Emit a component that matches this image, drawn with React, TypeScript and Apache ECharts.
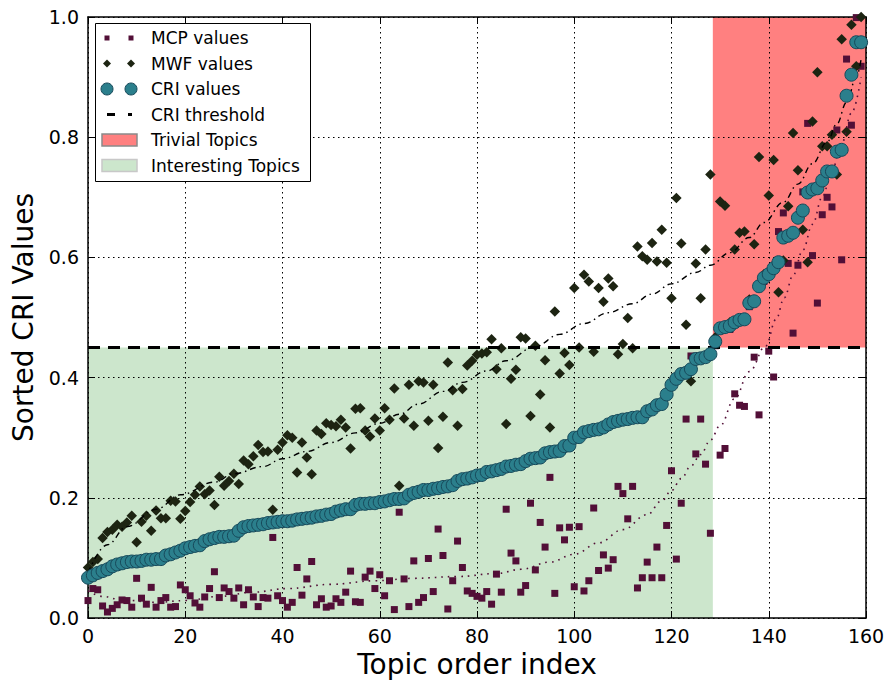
import React, { useEffect, useRef } from "react";
import * as echarts from "echarts";

// ---------- data ----------
const MCP_VALUES = [
  0.029, 0.049, 0.047, 0.020, 0.010, 0.016, 0.022, 0.030, 0.029, 0.018,
  0.066, 0.033, 0.023, 0.051, 0.018, 0.029, 0.034, 0.018, 0.019, 0.055,
  0.047, 0.037, 0.025, 0.018, 0.035, 0.049, 0.077, 0.034, 0.050, 0.044,
  0.033, 0.050, 0.022, 0.047, 0.035, 0.019, 0.034, 0.033, 0.134, 0.037,
  0.029, 0.018, 0.026, 0.084, 0.038, 0.065, 0.094, 0.022, 0.032, 0.018,
  0.020, 0.032, 0.026, 0.043, 0.078, 0.027, 0.026, 0.068, 0.078, 0.049,
  0.072, 0.037, 0.062, 0.014, 0.176, 0.065, 0.019, 0.095, 0.026, 0.034,
  0.099, 0.044, 0.148, 0.104, 0.015, 0.062, 0.128, 0.084, 0.045, 0.041,
  0.036, 0.033, 0.044, 0.023, 0.073, 0.043, 0.181, 0.108, 0.095, 0.043,
  0.054, 0.191, 0.080, 0.159, 0.118, 0.234, 0.041, 0.150, 0.130, 0.151,
  0.052, 0.152, 0.045, 0.062, 0.183, 0.079, 0.105, 0.083, 0.097, 0.219,
  0.207, 0.165, 0.219, 0.050, 0.067, 0.093, 0.067, 0.118, 0.067, 0.154,
  0.245, 0.098, 0.191, 0.331, 0.436, 0.273, 0.331, 0.256, 0.141, 0.453,
  0.271, 0.282, 0.480, 0.373, 0.354, 0.352, 0.518, 0.434, 0.338, 0.560,
  0.444, 0.401, 0.643, 0.674, 0.590, 0.474, 0.587, 0.709, 0.823, 0.603,
  0.524, 0.671, 0.700, 0.684, 0.812, 0.596, 0.930, 0.820, 0.999, 0.918,
];

const MWF_VALUES = [
  0.084, 0.093, 0.098, 0.133, 0.143, 0.147, 0.155, 0.152, 0.159, 0.170,
  0.126, 0.160, 0.170, 0.145, 0.179, 0.166, 0.166, 0.195, 0.194, 0.165,
  0.178, 0.193, 0.205, 0.219, 0.206, 0.212, 0.188, 0.235, 0.220, 0.228,
  0.240, 0.223, 0.262, 0.256, 0.269, 0.288, 0.276, 0.277, 0.180, 0.280,
  0.292, 0.304, 0.300, 0.242, 0.292, 0.267, 0.239, 0.312, 0.306, 0.324,
  0.321, 0.319, 0.330, 0.317, 0.282, 0.348, 0.349, 0.312, 0.302, 0.332,
  0.312, 0.349, 0.330, 0.382, 0.220, 0.332, 0.388, 0.320, 0.394, 0.392,
  0.328, 0.388, 0.283, 0.335, 0.425, 0.379, 0.320, 0.381, 0.420, 0.428,
  0.438, 0.440, 0.442, 0.464, 0.414, 0.449, 0.323, 0.398, 0.413, 0.467,
  0.465, 0.336, 0.453, 0.372, 0.429, 0.317, 0.510, 0.407, 0.441, 0.421,
  0.549, 0.450, 0.571, 0.560, 0.443, 0.549, 0.526, 0.565, 0.552, 0.439,
  0.456, 0.499, 0.449, 0.618, 0.602, 0.596, 0.624, 0.593, 0.646, 0.591,
  0.532, 0.699, 0.623, 0.488, 0.394, 0.590, 0.532, 0.613, 0.738, 0.467,
  0.693, 0.686, 0.492, 0.613, 0.641, 0.643, 0.530, 0.622, 0.767, 0.572,
  0.703, 0.762, 0.542, 0.595, 0.685, 0.807, 0.745, 0.646, 0.592, 0.826,
  0.908, 0.785, 0.785, 0.804, 0.738, 0.963, 0.809, 0.987, 0.918, 1.000,
];

const CRI_VALUES = [
  0.067, 0.071, 0.075, 0.078, 0.081, 0.086, 0.089, 0.091, 0.093, 0.094,
  0.094, 0.095, 0.097, 0.097, 0.098, 0.098, 0.104, 0.106, 0.109, 0.112,
  0.116, 0.118, 0.120, 0.121, 0.128, 0.131, 0.133, 0.135, 0.135, 0.136,
  0.137, 0.145, 0.151, 0.153, 0.154, 0.155, 0.156, 0.158, 0.159, 0.160,
  0.161, 0.161, 0.162, 0.164, 0.165, 0.166, 0.167, 0.169, 0.170, 0.172,
  0.173, 0.177, 0.179, 0.181, 0.181, 0.188, 0.190, 0.190, 0.191, 0.191,
  0.193, 0.194, 0.196, 0.198, 0.198, 0.199, 0.205, 0.208, 0.210, 0.213,
  0.213, 0.215, 0.216, 0.218, 0.219, 0.221, 0.228, 0.231, 0.232, 0.234,
  0.237, 0.238, 0.243, 0.244, 0.246, 0.248, 0.252, 0.253, 0.255, 0.256,
  0.261, 0.265, 0.266, 0.267, 0.274, 0.276, 0.277, 0.278, 0.286, 0.287,
  0.300, 0.301, 0.309, 0.311, 0.313, 0.314, 0.317, 0.322, 0.326, 0.328,
  0.330, 0.331, 0.333, 0.334, 0.334, 0.344, 0.347, 0.354, 0.356, 0.372,
  0.388, 0.398, 0.406, 0.408, 0.414, 0.431, 0.432, 0.434, 0.439, 0.460,
  0.482, 0.484, 0.486, 0.492, 0.496, 0.497, 0.524, 0.527, 0.552, 0.566,
  0.572, 0.582, 0.592, 0.633, 0.636, 0.641, 0.666, 0.678, 0.708, 0.713,
  0.715, 0.728, 0.743, 0.743, 0.776, 0.779, 0.869, 0.904, 0.958, 0.958,
];

// fitted trend curves: [index, value]
const MWF_TREND = [
  [0, 0.075], [4, 0.122], [8, 0.152], [14, 0.181], [19, 0.205], [26, 0.226],
  [30, 0.24], [36, 0.252], [40, 0.265], [45, 0.277], [50, 0.292], [55, 0.308],
  [60, 0.324], [64, 0.339], [68, 0.356], [73, 0.377], [77, 0.392], [82, 0.411],
  [86, 0.428], [92, 0.452], [97, 0.472], [102, 0.49], [107, 0.508], [112, 0.523],
  [116, 0.539], [120, 0.556], [125, 0.575], [128, 0.587], [132, 0.608],
  [136, 0.633], [139, 0.658], [143, 0.692], [146, 0.722], [149, 0.756],
  [152, 0.792], [154, 0.822], [156, 0.858], [158, 0.9], [159, 0.93],
];

const MCP_TREND = [
  [0, 0.045], [3, 0.036], [7, 0.03], [14, 0.026], [20, 0.029], [27, 0.036],
  [34, 0.043], [41, 0.049], [50, 0.056], [59, 0.062], [67, 0.066], [76, 0.069],
  [84, 0.074], [89, 0.081], [95, 0.093], [100, 0.106], [105, 0.125], [110, 0.147],
  [115, 0.172], [118, 0.195], [120, 0.212], [122, 0.232], [124, 0.253],
  [126, 0.272], [128, 0.296], [130, 0.32], [133, 0.365], [136, 0.41],
  [139.4, 0.453], [141.5, 0.497], [143.2, 0.533], [145, 0.57], [147, 0.612],
  [149, 0.655], [151, 0.7], [153, 0.745], [155, 0.79], [157, 0.84], [159, 0.9],
];

const CRI_THRESHOLD = 0.45;
const SPLIT_INDEX = 128.5;
const X_MIN = 0;
const X_MAX = 160;
const X_STEP = 20;
const Y_MIN = 0;
const Y_MAX = 1;
const Y_STEP = 0.2;

const LEGEND_LABELS = [
  "MCP values",
  "MWF values",
  "CRI values",
  "CRI threshold",
  "Trivial Topics",
  "Interesting Topics",
];
const X_TITLE = "Topic order index";
const Y_TITLE = "Sorted CRI Values";

// ---------- styles ----------
const FONT = "DejaVu Sans";
const C_MCP = "#520f37";
const C_MWF = "#1d2412";
const C_CRI = "#2b7f8c";
const C_CRI_EDGE = "#17495a";
const C_RED = "#ff8080";
const C_GREEN = "#cce6cc";

function buildOption() {
  const idx = (arr: number[]) => arr.map((v, i) => [i, v]);

  const axisLineStyle = { color: "#000", width: 1.5 };
  const baseX = {
    type: "value",
    min: X_MIN,
    max: X_MAX,
    interval: X_STEP,
    z: 1.5,
  };
  const baseY = {
    type: "value",
    min: Y_MIN,
    max: Y_MAX,
    interval: Y_STEP,
    z: 1.5,
  };

  const lx = 101;
  const lx2 = 125;
  const rowY = [38, 63.5, 89, 114.5, 140, 165.5];

  const legend: any[] = [
    {
      type: "rect",
      shape: { x: 95.5, y: 23.5, width: 215, height: 158 },
      style: { fill: "#fff", stroke: "#000", lineWidth: 1 },
      z: 100,
    },
  ];
  [lx + 6, lx2 + 6].forEach((cx) =>
    legend.push({
      type: "rect",
      shape: { x: cx - 2.5, y: rowY[0] - 2.5, width: 5, height: 5 },
      style: { fill: C_MCP },
      z: 101,
    })
  );
  [lx + 6, lx2 + 6].forEach((cx) =>
    legend.push({
      type: "polygon",
      shape: {
        points: [
          [cx, rowY[1] - 4],
          [cx + 4, rowY[1]],
          [cx, rowY[1] + 4],
          [cx - 4, rowY[1]],
        ],
      },
      style: { fill: C_MWF },
      z: 101,
    })
  );
  [lx + 6, lx2 + 6].forEach((cx) =>
    legend.push({
      type: "circle",
      shape: { cx, cy: rowY[2], r: 6 },
      style: { fill: C_CRI, stroke: C_CRI_EDGE, lineWidth: 1 },
      z: 101,
    })
  );
  legend.push({
    type: "line",
    shape: { x1: lx + 6, y1: rowY[3], x2: lx + 31, y2: rowY[3] },
    style: { stroke: "#000", lineWidth: 3, lineDash: [8, 13] },
    z: 101,
  });
  legend.push({
    type: "rect",
    shape: { x: lx + 1, y: rowY[4] - 6, width: 35, height: 12 },
    style: { fill: C_RED, stroke: "#8a8a8a", lineWidth: 1.5 },
    z: 101,
  });
  legend.push({
    type: "rect",
    shape: { x: lx + 1, y: rowY[5] - 6, width: 35, height: 12 },
    style: { fill: C_GREEN, stroke: "#c8c8c8", lineWidth: 1.5 },
    z: 101,
  });
  LEGEND_LABELS.forEach((t, i) =>
    legend.push({
      type: "text",
      x: 151,
      y: rowY[i],
      style: {
        text: t,
        font: `17px "${FONT}"`,
        fill: "#000",
        verticalAlign: "middle",
        align: "left",
      },
      z: 101,
    })
  );

  return {
    animation: false,
    backgroundColor: "#fff",
    textStyle: { fontFamily: FONT },
    grid: { left: 88, right: 25, top: 17, bottom: 64, containLabel: false },
    xAxis: [
      {
        ...baseX,
        position: "bottom",
        name: X_TITLE,
        nameLocation: "middle",
        nameGap: 32,
        nameTextStyle: { fontSize: 28, fontFamily: FONT, color: "#000" },
        axisLine: { show: true, onZero: false, lineStyle: axisLineStyle },
        axisTick: { show: true, inside: true, length: 7, lineStyle: { color: "#000", width: 1 } },
        axisLabel: { color: "#000", fontSize: 19, fontFamily: FONT, margin: 8 },
        splitLine: { show: true, lineStyle: { color: "#000", width: 1, type: [1.5, 3.5] } },
      },
      {
        ...baseX,
        position: "top",
        axisLine: { show: true, onZero: false, lineStyle: axisLineStyle },
        axisTick: { show: true, inside: true, length: 7, lineStyle: { color: "#000", width: 1 } },
        axisLabel: { show: false },
        splitLine: { show: false },
      },
    ],
    yAxis: [
      {
        ...baseY,
        position: "left",
        name: Y_TITLE,
        nameLocation: "middle",
        nameGap: 50,
        nameTextStyle: { fontSize: 28, fontFamily: FONT, color: "#000" },
        axisLine: { show: true, onZero: false, lineStyle: axisLineStyle },
        axisTick: { show: true, inside: true, length: 7, lineStyle: { color: "#000", width: 1 } },
        axisLabel: {
          color: "#000",
          fontSize: 19,
          fontFamily: FONT,
          margin: 9,
          formatter: (v: number) => v.toFixed(1),
        },
        splitLine: { show: true, lineStyle: { color: "#000", width: 1, type: [1.5, 3.5] } },
      },
      {
        ...baseY,
        position: "right",
        axisLine: { show: true, onZero: false, lineStyle: axisLineStyle },
        axisTick: { show: true, inside: true, length: 7, lineStyle: { color: "#000", width: 1 } },
        axisLabel: { show: false },
        splitLine: { show: false },
      },
    ],
    series: [
      {
        name: "spans",
        type: "line",
        data: [[X_MIN, CRI_THRESHOLD]],
        symbol: "none",
        lineStyle: { opacity: 0 },
        silent: true,
        z: 1,
        markArea: {
          silent: true,
          data: [
            [
              { coord: [X_MIN, Y_MIN], itemStyle: { color: C_GREEN } },
              { coord: [SPLIT_INDEX, CRI_THRESHOLD] },
            ],
            [
              { coord: [SPLIT_INDEX, CRI_THRESHOLD], itemStyle: { color: C_RED } },
              { coord: [X_MAX, Y_MAX] },
            ],
          ],
        },
      },
      {
        name: "MCP values",
        type: "scatter",
        data: idx(MCP_VALUES),
        symbol: "rect",
        symbolSize: 7,
        itemStyle: { color: C_MCP, opacity: 1 },
        z: 3,
      },
      {
        name: "MWF values",
        type: "scatter",
        data: idx(MWF_VALUES),
        symbol: "diamond",
        symbolSize: 10.5,
        itemStyle: { color: C_MWF, opacity: 1 },
        z: 4,
      },
      {
        name: "MCP trend",
        type: "line",
        data: MCP_TREND,
        symbol: "none",
        smooth: 0.4,
        smoothMonotone: "x",
        lineStyle: { color: C_MCP, width: 1.6, type: [1.6, 5] },
        z: 5,
      },
      {
        name: "MWF trend",
        type: "line",
        data: MWF_TREND,
        symbol: "none",
        smooth: 0.4,
        smoothMonotone: "x",
        lineStyle: { color: "#000", width: 1.4, type: [6, 4, 1.5, 4] },
        z: 5,
      },
      {
        name: "CRI threshold",
        type: "line",
        data: [
          [X_MIN, CRI_THRESHOLD],
          [X_MAX, CRI_THRESHOLD],
        ],
        symbol: "none",
        lineStyle: { color: "#000", width: 3, type: [12, 8] },
        z: 5,
      },
      {
        name: "CRI values",
        type: "scatter",
        data: idx(CRI_VALUES),
        symbol: "circle",
        symbolSize: 13,
        itemStyle: { color: C_CRI, borderColor: C_CRI_EDGE, borderWidth: 1, opacity: 1 },
        z: 6,
      },
    ],
    graphic: legend,
  };
}

export default function App() {
  const ref = useRef<HTMLDivElement>(null);
  useEffect(() => {
    if (!ref.current) return;
    const chart = echarts.init(ref.current, null, { renderer: "svg" });
    chart.setOption(buildOption() as any);
    return () => chart.dispose();
  }, []);
  return (
    <div
      ref={ref}
      style={{ position: "absolute", left: 0, top: 0, width: 891, height: 683, background: "#fff" }}
    />
  );
}
